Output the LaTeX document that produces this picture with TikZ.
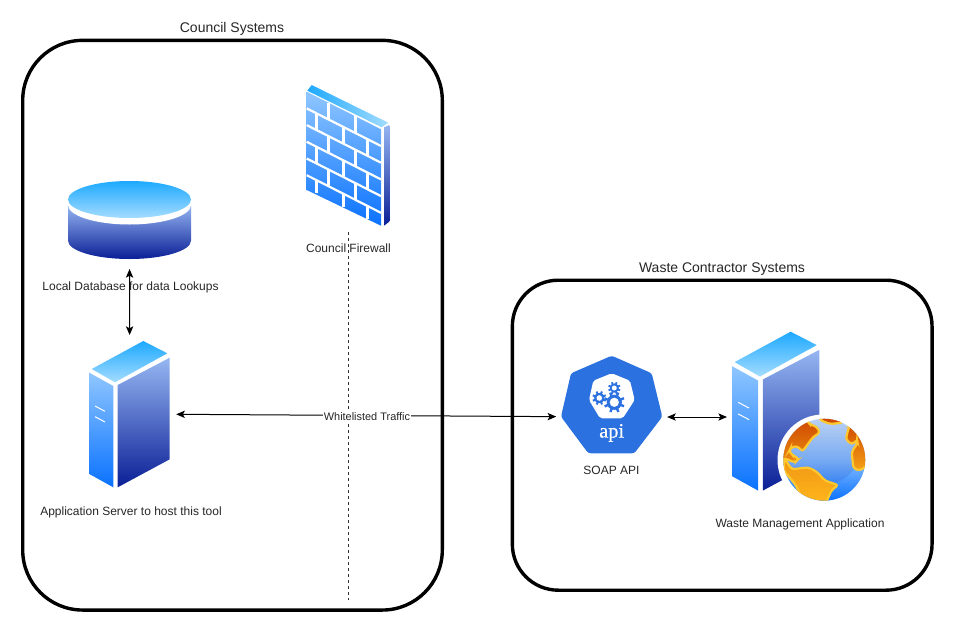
\documentclass[tikz,border=0pt]{standalone}
\usepackage{fontspec}
\setmainfont{Liberation Sans}
\newfontfamily\apifont[FakeBold=0.6]{Liberation Serif}
\usetikzlibrary{arrows.meta,positioning}

\definecolor{apiblue}{HTML}{2B72E0}
\definecolor{faceA}{HTML}{8FC6FF}
\definecolor{faceB}{HTML}{0A72FF}
\definecolor{sideA}{HTML}{96B6F2}
\definecolor{sideB}{HTML}{0A1F96}
\definecolor{capA}{HTML}{1DA9FF}
\definecolor{capB}{HTML}{A4DCFF}
\definecolor{seaA}{HTML}{D4EAFF}
\definecolor{seaM}{HTML}{88BEFF}
\definecolor{landA}{HTML}{CF4A00}
\definecolor{landB}{HTML}{FFB71C}
\definecolor{landline}{HTML}{FFC72E}

\def\px{0.75pt}

\newcommand{\serverIcon}[3]{%
    \begin{scope}[shift={(#1,#2)},scale=#3]
        \shade[top color=capA,bottom color=capB] (54,0) -- (78,12.3) -- (25.7,41.3) -- (2.4,28) -- cycle;
        \shade[top color=faceA,bottom color=faceB] (0,31.7) -- (24,45) -- (24,146.3) -- (0,133) -- cycle;
        \shade[top color=sideA,bottom color=sideB] (28.4,44) -- (80.4,16.7) -- (80.4,118.3) -- (28.4,146.3) -- cycle;
        \draw[white,line width=1*\px] (5.7,65) -- (15.7,70.3);
        \draw[white,line width=1*\px] (5.7,75.7) -- (15.7,81);
    \end{scope}
}

\newcommand{\gearIcon}[6]{%
    % x, y, teeth radius, ring radius, hole radius
    \foreach \a in {0,45,...,315}
        \draw[apiblue,line width=#6*\px] (#1,#2) -- ++(\a+22:#3);
    \fill[apiblue] (#1,#2) circle (#4);
    \fill[white] (#1,#2) circle (#5);
}

\begin{document}
\begin{tikzpicture}[x=\px, y=-\px
        , >={Stealth[length=6.5pt,width=5.5pt,inset=1.5pt]}
        , sysbox/.style={ draw, line width=3.4*\px, rounded corners=#1*\px, inner sep=0pt, outer sep=0pt }
        , iconbox/.style={ inner sep=0pt, outer sep=#1*\px }
        , label/.style={ font=\fontsize{9}{11}\selectfont, inner sep=0pt, text=black!85 }
        , title/.style={ font=\fontsize{10.5}{12}\selectfont, inner sep=0pt, text=black!85 }
        , link/.style={ <->, line width=1*\px }
        ]

    \useasboundingbox (0,0) rectangle (954,632);

    % The two system boundaries.
    \node[sysbox=60, minimum width=419.6*\px, minimum height=569.7*\px] (councilBox) at (232.5,325.2) {};
    \node[sysbox=46, minimum width=419.7*\px, minimum height=310*\px] (wasteBox) at (722.2,435.2) {};

    \node[title] (councilTitle) at (232,29) {Council Systems};
    \node[title] (wasteTitle) at (722,269) {Waste Contractor Systems};

    % Database.
    \shade[top color=sideA,bottom color=sideB] (68,205) -- (191,205) -- (191,240.7)
        arc[start angle=0,end angle=180,x radius=61.5,y radius=18.3] -- cycle;
    \fill[white] (129.5,205) ellipse[x radius=61.5,y radius=19.5];
    \shade[top color=capA,bottom color=capB] (129.5,199.5) ellipse[x radius=61.5,y radius=18.5];

    % Firewall.
    \shade[left color=capA,right color=capB] (311.7,85) -- (388.3,122.7) -- (381.7,127.3) -- (307.3,90.7) -- cycle;
    \shade[top color=sideA,bottom color=sideB] (384,127.3) -- (389.3,125) -- (389.3,221.7) -- (384,225.7) -- cycle;
    \shade[top color=faceA,bottom color=faceB] (306.7,91.7) -- (381,129.3) -- (381,225.7) -- (306.7,190) -- cycle;
    \begin{scope}[shift={(306.7,91.7)},yslant=-0.506]
        \foreach \k in {1,2,3,4,5}
            \draw[white,line width=2.2*\px] (0,16.7*\k) -- (74.3,16.7*\k);
        \foreach \k in {0,2,4} {
            \foreach \u in {21.7,48.3}
                \draw[white,line width=3*\px] (\u,16.7*\k) -- (\u,16.7*\k+16.7);
        }
        \foreach \k in {1,3,5} {
            \foreach \u in {9.7,36.7,61}
                \draw[white,line width=3*\px] (\u,16.7*\k) -- (\u,{min(16.7*\k+16.7,96.4)});
        }
    \end{scope}

    % Servers.
    \serverIcon{89.3}{341}{1}
    \serverIcon{732}{331.7}{1.086}

    % Globe.
    \fill[white] (823,460) circle (45.5);
    \begin{scope}
        \clip (824.3,459.7) circle (41);
        \shade[top color=seaA,bottom color=faceB,middle color=seaM] (824.3,459.7) circle (41);
        \fill[sideB,opacity=.12] (823,447) circle (38);
        \begin{scope}[shift={(775,410)},scale=1/3,rounded corners=3*\px]
            % zoomed in thirds of a pixel
            \path[draw=landline,line width=2.2*\px,top color=landA,bottom color=landB!60!landA]
                (15,150) -- (40,60) -- (98,30) -- (102,42) -- (125,50) -- (135,68) -- (115,80) -- (100,100)
                -- (82,125) -- (68,108) -- (48,112) -- (42,124) -- (52,135) -- (72,146) -- (60,158) -- (30,145) -- cycle;
            \path[draw=landline,line width=2.2*\px,top color=landB!70!landA,bottom color=landB]
                (28,145) -- (50,178) -- (100,172) -- (125,185) -- (150,212) -- (190,225) -- (170,240) -- (150,285)
                -- (90,285) -- (62,225) -- (25,180) -- cycle;
            \path[draw=landline,line width=2.2*\px,top color=landA,bottom color=landA]
                (135,30) -- (165,42) -- (205,38) -- (190,10) -- (130,10) -- cycle;
            \path[draw=landline,line width=2.2*\px,top color=landA,bottom color=landB!80!landA]
                (222,50) -- (212,88) -- (232,104) -- (246,88) -- (248,100) -- (230,125) -- (235,175) -- (255,182)
                -- (285,160) -- (285,90) -- (235,40) -- cycle;
        \end{scope}
    \end{scope}

    % API badge.
    \fill[apiblue,rounded corners=2.5*\px] (611.7,355.7) -- (651.7,373.3) -- (662.3,416.7) -- (634.3,453.3)
        -- (588.3,453.3) -- (561,416.7) -- (571,373.3) -- cycle;
    \fill[white,rounded corners=2*\px] (611.7,373.3) -- (630,380.7) -- (634.7,400) -- (622.7,418.3)
        -- (600,418.3) -- (589,400) -- (593.3,380.7) -- cycle;
    \gearIcon{614.3}{402.3}{10.5}{7.6}{4.6}{2.4}
    \gearIcon{599.3}{398}{7}{5.2}{2.8}{2}
    \gearIcon{614.3}{388}{6.2}{4.6}{2.5}{1.8}
    \node[inner sep=0pt, text=white, font=\apifont\fontsize{15.3}{17}\selectfont] (apiText) at (611.7,433) {api};

    % Anchors of the icons, for the connectors.
    \node[iconbox=10, minimum width=123*\px, minimum height=78*\px] (dbIcon) at (129.5,220) {};
    \node[iconbox=6, minimum width=81*\px, minimum height=146*\px] (appServer) at (129.7,414) {};
    \node[iconbox=4.8, minimum width=101.3*\px, minimum height=73*\px] (apiIcon) at (611.7,417) {};
    \node[iconbox=5, minimum width=88*\px, minimum height=147*\px] (wasteServer) at (776,417) {};
    \coordinate (dmzTop) at (348,232);
    \coordinate (dmzEnd) at (348,600);

    % Labels that the lines run over.
    \node[label] (dbLabel) at (130.5,287) {Local Database for data Lookups};
    \node[label] (appLabel) at (131,512) {Application Server to host this tool};
    \node[label] (fwLabel) at (348.5,248) {Council Firewall};
    \node[label] (apiLabel) at (611.5,470) {SOAP API};
    \node[label] (wasteLabel) at (800,524) {Waste Management Application};

    \draw[line width=1*\px,black!80,dash pattern=on 3*\px off 3*\px] (dmzTop) -- (dmzEnd);

    \draw[link] (dbIcon) -- (appServer);
    \draw[link] (appServer) -- (apiIcon);
    \draw[link] (apiIcon) -- (wasteServer);

    \node[label, fill=white, inner sep=.5pt, font=\fontsize{8.2}{10}\selectfont] (trafficLabel) at (367,417) {Whitelisted Traffic};

\end{tikzpicture}
\end{document}
